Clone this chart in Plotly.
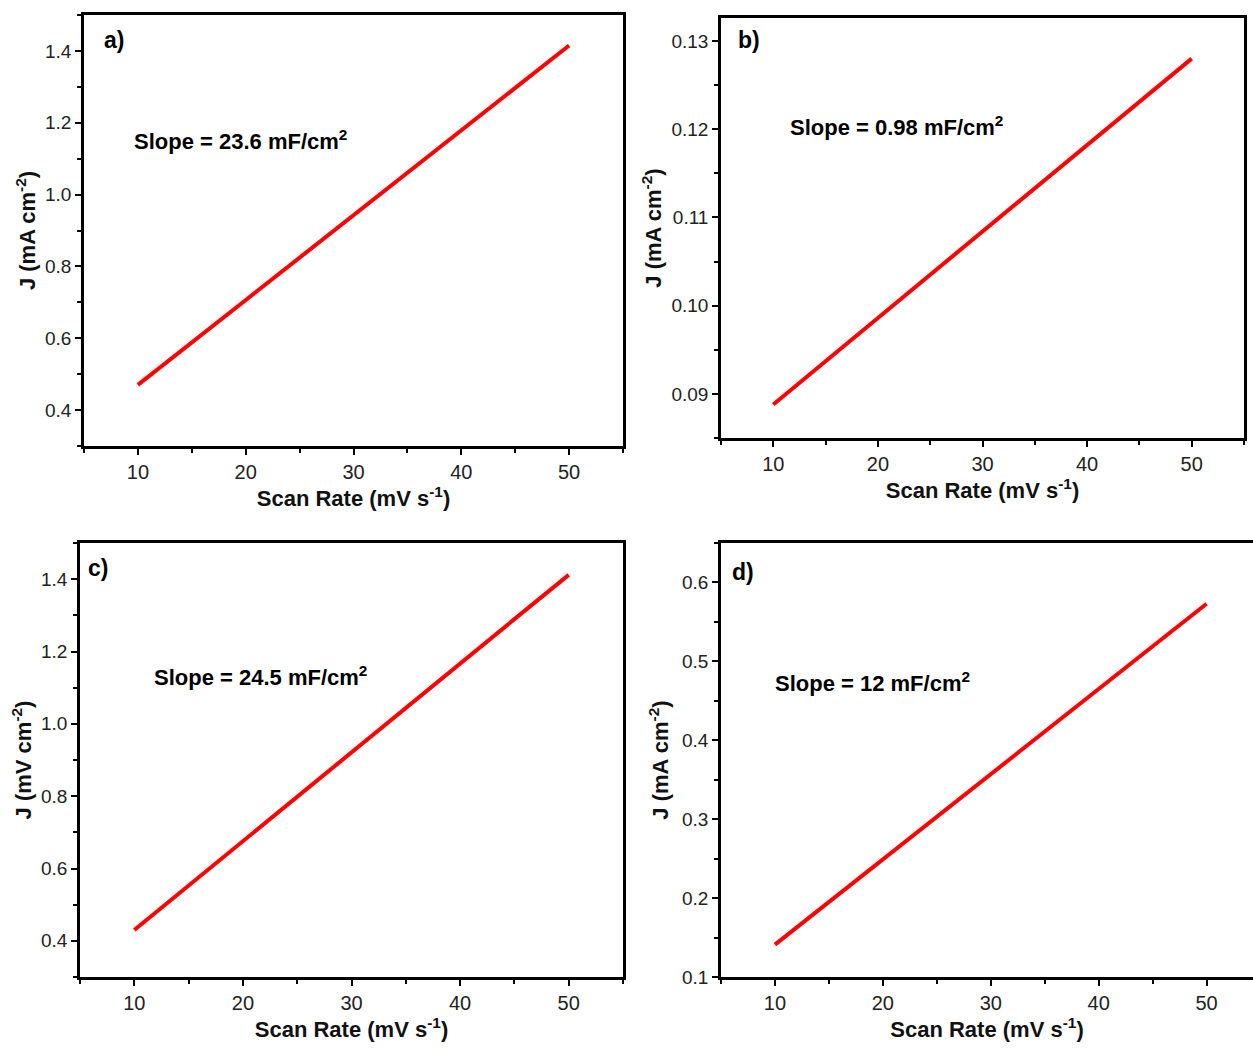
import plotly.graph_objects as go

W, H = 1253, 1049

scan_rate = [10, 50]
j_a = [0.470, 1.415]
j_b = [0.0888, 0.1280]
j_c = [0.430, 1.412]
j_d = [0.141, 0.573]

panel_labels = ["a)", "b)", "c)", "d)"]
slope_texts = ["Slope = 23.6 mF/cm<sup>2</sup>", "Slope = 0.98 mF/cm<sup>2</sup>",
               "Slope = 24.5 mF/cm<sup>2</sup>", "Slope = 12 mF/cm<sup>2</sup>"]
y_titles = ["J (mA cm<sup>-2</sup>)", "J (mA cm<sup>-2</sup>)",
            "J (mV cm<sup>-2</sup>)", "J (mA cm<sup>-2</sup>)"]
x_title = "Scan Rate (mV s<sup>-1</sup>)"

FONT = "Liberation Sans, Arial, sans-serif"

# pixel boxes (left, right, top, bottom)
boxes = [(84, 623, 15, 446), (721, 1244, 18, 438), (80, 623, 543, 977), (721, 1253, 543, 977)]
yranges = [[0.3, 1.5], [0.085, 0.1326], [0.3, 1.5], [0.1, 0.65]]
xranges = [[5, 55], [5, 55], [5, 55], [5, 54.3]]
ydticks = [0.2, 0.01, 0.2, 0.1]
yminor = [0.1, 0.005, 0.1, 0.05]
yfmt = [".1f", ".2f", ".1f", ".1f"]
ystandoff = [4, 4, 4, 8]
xstandoff = [6, 6, 4, 8]
label_pos = [(114, 40), (749, 40), (98, 568), (743, 572)]
slope_pos = [(132, 140), (788, 126), (152, 676), (773, 682)]

series = [j_a, j_b, j_c, j_d]

fig = go.Figure()
layout = dict(width=W, height=H, margin=dict(l=0, r=0, t=0, b=0), template="none",
              paper_bgcolor="white", plot_bgcolor="white", showlegend=False,
              font=dict(family=FONT, color="black"))
annotations = []
for i in range(4):
    n = "" if i == 0 else str(i + 1)
    xa, ya = "x" + n, "y" + n
    l, r, t, b = boxes[i]
    fig.add_trace(go.Scatter(x=scan_rate, y=series[i], mode="lines",
                             line=dict(color="#ff0000", width=4),
                             xaxis=xa, yaxis=ya, hoverinfo="skip"))
    layout["xaxis" + n] = dict(
        domain=[l / W, r / W], anchor=ya, range=xranges[i], automargin=False,
        showgrid=False, zeroline=False, showline=True, linecolor="black", linewidth=2.5,
        mirror=True, ticks="outside", ticklen=6, tickwidth=2, tickcolor="black",
        tick0=0, dtick=10, tickfont=dict(size=20, family=FONT, color="#222"),
        minor=dict(dtick=5, ticks="outside", ticklen=4, tickwidth=2, tickcolor="black"),
        title=dict(text="<b>" + x_title + "</b>", font=dict(size=22, family=FONT, color="#111"),
                   standoff=xstandoff[i]),
    )
    layout["yaxis" + n] = dict(
        domain=[1 - b / H, 1 - t / H], anchor=xa, range=yranges[i], automargin=False,
        showgrid=False, zeroline=False, showline=True, linecolor="black", linewidth=2.5,
        mirror=(i != 3), ticks="outside", ticklen=6, tickwidth=2, tickcolor="black",
        tick0=0, dtick=ydticks[i], tickformat=yfmt[i],
        tickfont=dict(size=19, family=FONT, color="#222"),
        minor=dict(dtick=yminor[i], ticks="outside", ticklen=4, tickwidth=2, tickcolor="black"),
        title=dict(text="<b>" + y_titles[i] + "</b>", font=dict(size=22, family=FONT, color="#111"),
                   standoff=ystandoff[i]),
    )
    lx, ly = label_pos[i]
    annotations.append(dict(text="<b>" + panel_labels[i] + "</b>", x=lx / W, y=1 - ly / H,
                            xref="paper", yref="paper", xanchor="center", yanchor="middle",
                            showarrow=False, font=dict(size=23, family=FONT, color="black")))
    sx, sy = slope_pos[i]
    annotations.append(dict(text="<b>" + slope_texts[i] + "</b>", x=sx / W, y=1 - sy / H,
                            xref="paper", yref="paper", xanchor="left", yanchor="middle",
                            showarrow=False, font=dict(size=22, family=FONT, color="black")))
layout["annotations"] = annotations
fig.update_layout(**layout)
fig.write_html("out.html")
